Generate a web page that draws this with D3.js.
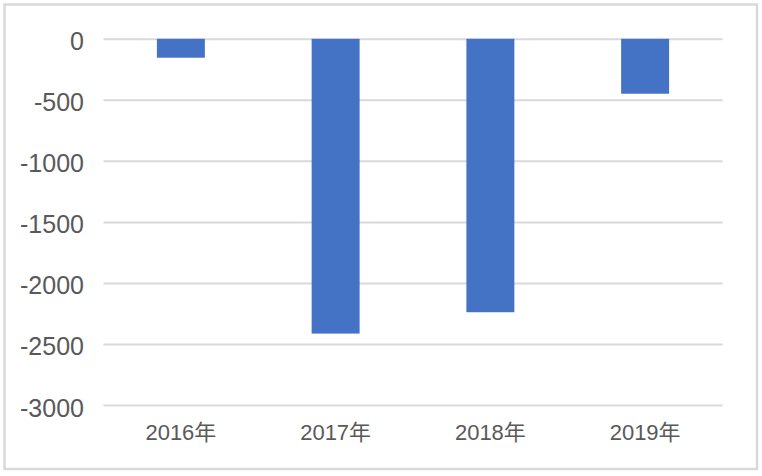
<!DOCTYPE html>
<html><head><meta charset="utf-8">
<script src="https://cdn.jsdelivr.net/npm/d3@7"></script>
<style>body{margin:0;background:#fff}svg{display:block}</style>
</head><body>
<script>
const categories = ["2016年", "2017年", "2018年", "2019年"];
const values = [-155, -2415, -2240, -450];
const yTicks = [0, -500, -1000, -1500, -2000, -2500, -3000];

const W = 762, H = 476;
const svg = d3.select("body").append("svg").attr("width", W).attr("height", H);
svg.append("rect").attr("x", 4.5).attr("y", 4.5).attr("width", 752.5).attr("height", 464.5)
  .attr("fill", "#fff").attr("stroke", "#d9d9d9").attr("stroke-width", 2.5);

const x = d3.scaleBand().domain(categories).range([103.5, 722.5]).paddingInner(0.69).paddingOuter(0.345);
const y = d3.scaleLinear().domain([0, -3000]).range([38.8, 405]);

const grid = d3.axisLeft(y).tickValues(yTicks).tickSize(-(722.5 - 103.5)).tickFormat("");
svg.append("g").attr("transform", "translate(103.5,0)").call(grid)
  .call(g => g.select(".domain").remove())
  .call(g => g.selectAll("line").attr("stroke", "#d9d9d9").attr("stroke-width", 2));

svg.append("g").selectAll("rect").data(values).enter().append("rect")
  .attr("x", (d, i) => x(categories[i]))
  .attr("width", x.bandwidth())
  .attr("y", d => y(Math.max(0, d)))
  .attr("height", d => Math.abs(y(d) - y(0)))
  .attr("fill", "#4472c4");

const yAxis = d3.axisLeft(y).tickValues(yTicks).tickSize(0).tickPadding(0).tickFormat(d => String(d));
svg.append("g").attr("transform", "translate(84,3)").call(yAxis)
  .call(g => g.select(".domain").remove())
  .call(g => g.selectAll("text").attr("fill", "#595959").style("font-family", "Liberation Sans, Arial, sans-serif").style("font-size", "25px"));

const xAxis = d3.axisBottom(x).tickSize(0).tickPadding(0);
svg.append("g").attr("transform", "translate(0,424)").call(xAxis)
  .call(g => g.select(".domain").remove())
  .call(g => g.selectAll("text").attr("fill", "#595959").style("font-family", "Liberation Sans, 'Noto Sans CJK SC', sans-serif").style("font-size", "22px"));
</script>
</body></html>
